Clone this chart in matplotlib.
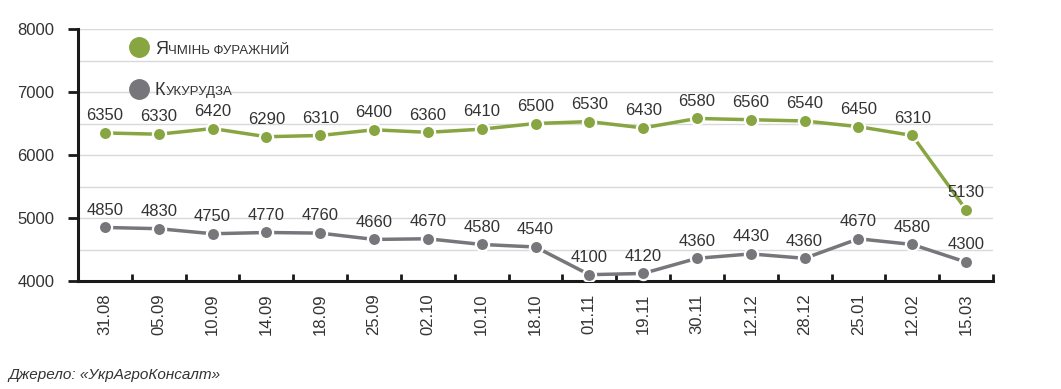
import matplotlib.pyplot as plt

plt.rcParams['font.family'] = ['Liberation Sans', 'DejaVu Sans']

dates = ['31.08', '05.09', '10.09', '14.09', '18.09', '25.09', '02.10', '10.10', '18.10',
         '01.11', '19.11', '30.11', '12.12', '28.12', '25.01', '12.02', '15.03']
barley = [6350, 6330, 6420, 6290, 6310, 6400, 6360, 6410, 6500,
          6530, 6430, 6580, 6560, 6540, 6450, 6310, 5130]
corn = [4850, 4830, 4750, 4770, 4760, 4660, 4670, 4580, 4540,
        4100, 4120, 4360, 4430, 4360, 4670, 4580, 4300]

green = '#87a540'
grey = '#77777b'
txt = '#333333'

fig = plt.figure(figsize=(10.61, 3.89), dpi=100)
ax = fig.add_axes([78 / 1061, 1 - 281 / 389, (993 - 78) / 1061, (281 - 29) / 389])

x = list(range(len(dates)))
for vals, col in [(barley, green), (corn, grey)]:
    ax.plot(x, vals, color=col, lw=2.5, marker='o', ms=9.5, mfc=col,
            mec='white', mew=1.6, zorder=3, solid_capstyle='butt')
    for i, v in enumerate(vals):
        ax.annotate(str(v), (i, v), xytext=(0, 7), textcoords='offset points',
                    ha='center', va='bottom', fontsize=12, color=txt)

ax.set_xlim(-0.5, len(dates) - 0.5)
ax.set_ylim(4000, 8000)
ax.set_yticks([4000, 5000, 6000, 7000, 8000])
ax.set_yticks([4500, 5500, 6500, 7500], minor=True)
ax.grid(True, which='both', axis='y', color='#d9d9d9', lw=1, zorder=0)
ax.set_axisbelow(True)

ax.set_xticks(x)
ax.set_xticklabels(dates, rotation=90, fontsize=12, color=txt)
ax.tick_params(axis='x', length=0, pad=9)
ax.set_xticks([i - 0.5 for i in range(len(dates) + 1)], minor=True)
ax.tick_params(axis='x', which='minor', direction='in', length=5, width=2, color='#1a1a1a')
ax.tick_params(axis='y', which='major', direction='out', length=7, width=2,
               color='#1a1a1a', labelsize=12, labelcolor=txt, pad=10)
ax.tick_params(axis='y', which='minor', length=0)

for s in ['top', 'right']:
    ax.spines[s].set_visible(False)
for s in ['left', 'bottom']:
    ax.spines[s].set_linewidth(2.2)
    ax.spines[s].set_color('#1a1a1a')

# legend
ax.plot([0.63], [7714], 'o', ms=14, color=green, clip_on=False)
ax.plot([0.63], [7048], 'o', ms=14, color=grey, clip_on=False)


def small_caps(xp, yp, first, rest):
    t = ax.text(xp, yp, first, fontsize=13, color=txt, va='baseline')
    fig.canvas.draw()
    bb = t.get_window_extent()
    x1 = ax.transData.inverted().transform((bb.x1 + 0.5, 0))[0]
    ax.text(x1, yp, rest, fontsize=9.5, color=txt, va='baseline')


small_caps(0.93, 7610, 'Я', 'ЧМІНЬ ФУРАЖНИЙ')
small_caps(0.93, 6945, 'К', 'УКУРУДЗА')

fig.text(8 / 1061, 1 - 375 / 389, 'Джерело: «УкрАгроКонсалт»', fontsize=11,
         style='italic', color=txt, va='center')

fig.savefig('out.png', dpi=100)
